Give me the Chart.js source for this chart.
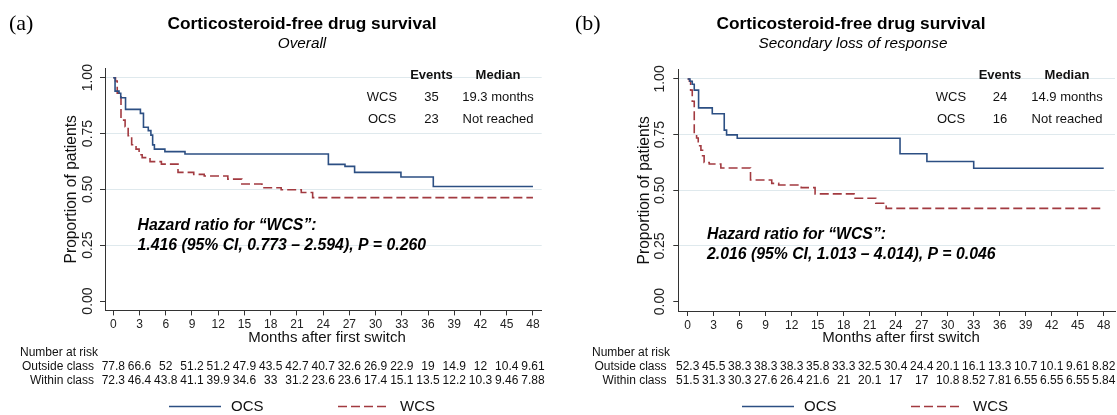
<!DOCTYPE html>
<html>
<head>
<meta charset="utf-8">
<script src="https://cdn.jsdelivr.net/npm/chart.js@4.4.1/dist/chart.umd.min.js"></script>
<style>
html, body { margin:0; padding:0; background:#fff; overflow:hidden; }
#wrap { position:relative; width:1117px; height:415px; overflow:hidden; }
canvas { position:absolute; top:0; }
#cA { left:0; }
#cB { left:558px; }
</style>
</head>
<body>
<div id="wrap">
  <canvas id="cA" width="558" height="415"></canvas>
  <canvas id="cB" width="580" height="415"></canvas>
</div>
<script>
const FONT = "'Liberation Sans', Arial, Helvetica, sans-serif";
const SERIF = "'Liberation Serif', 'Times New Roman', serif";
const BLUE = '#2c4f83', RED = '#a23a40', AXIS = '#333', GRID = '#dfe9ed';

// axes
const monthTicks = [0, 3, 6, 9, 12, 15, 18, 21, 24, 27, 30, 33, 36, 39, 42, 45, 48];
const propTicks = [0, 0.25, 0.5, 0.75, 1];
const propLabels = ['0.00', '0.25', '0.50', '0.75', '1.00'];
const tableGroups = ['WCS', 'OCS'];

// (a) overall - KM steps (month, proportion)
const ocsTimeA = [0, 0.2, 0.65, 0.85, 1.4, 3.1, 3.45, 4.0, 4.3, 4.5, 4.7, 5.9, 8.2, 24.6, 26.5, 27.6, 32.9, 36.6, 48];
const ocsSurvA = [1, 0.94, 0.93, 0.91, 0.858, 0.84, 0.778, 0.763, 0.743, 0.699, 0.68, 0.669, 0.658, 0.612, 0.603, 0.576, 0.555, 0.513, 0.513];
const wcsTimeA = [0, 0.25, 0.45, 0.88, 1.35, 1.7, 2.1, 2.6, 2.95, 3.3, 4.2, 5.5, 7.4, 9.2, 10.4, 13.1, 14.7, 17.0, 19.2, 21.5, 22.8, 48];
const wcsSurvA = [1, 0.985, 0.93, 0.81, 0.78, 0.74, 0.70, 0.68, 0.655, 0.642, 0.624, 0.613, 0.576, 0.567, 0.56, 0.546, 0.524, 0.507, 0.498, 0.486, 0.463, 0.463];
const eventsA = [35, 23];
const medianA = ['19.3 months', 'Not reached'];
const hazardA = ['Hazard ratio for \u201cWCS\u201d:', '1.416 (95% CI, 0.773 \u2013 2.594), P = 0.260'];
const outsideA = [77.8, 66.6, 52, 51.2, 51.2, 47.9, 43.5, 42.7, 40.7, 32.6, 26.9, 22.9, 19, 14.9, 12, 10.4, 9.61];
const withinA = [72.3, 46.4, 43.8, 41.1, 39.9, 34.6, 33, 31.2, 23.6, 23.6, 17.4, 15.1, 13.5, 12.2, 10.3, 9.46, 7.88];

// (b) secondary loss of response
const ocsTimeB = [0, 0.26, 0.53, 0.76, 1.26, 2.84, 4.22, 4.49, 5.72, 24.5, 27.6, 33.0, 48];
const ocsSurvB = [1, 0.99, 0.976, 0.95, 0.87, 0.844, 0.77, 0.749, 0.734, 0.664, 0.629, 0.599, 0.599];
const wcsTimeB = [0, 0.2, 0.34, 0.53, 0.76, 1.03, 1.22, 1.53, 1.72, 1.9, 2.49, 3.83, 7.25, 9.7, 10.5, 13.1, 14.7, 19.2, 21.7, 22.9, 48];
const wcsSurvB = [1, 0.99, 0.95, 0.90, 0.75, 0.735, 0.70, 0.68, 0.655, 0.625, 0.618, 0.60, 0.546, 0.531, 0.524, 0.512, 0.484, 0.464, 0.442, 0.419, 0.419];
const eventsB = [24, 16];
const medianB = ['14.9 months', 'Not reached'];
const hazardB = ['Hazard ratio for \u201cWCS\u201d:', '2.016 (95% CI, 1.013 \u2013 4.014), P = 0.046'];
const outsideB = [52.3, 45.5, 38.3, 38.3, 38.3, 35.8, 33.3, 32.5, 30.4, 24.4, 20.1, 16.1, 13.3, 10.7, 10.1, 9.61, 8.82];
const withinB = [51.5, 31.3, 30.3, 27.6, 26.4, 21.6, 21, 20.1, 17, 17, 10.8, 8.52, 7.81, 6.55, 6.55, 6.55, 5.84];

function pts(t, s) { return t.map((v, i) => ({ x: v, y: s[i] })); }

function put(c, s, x, y, font, align, color) {
  c.font = font; c.textAlign = align || 'left'; c.textBaseline = 'middle';
  c.fillStyle = color || '#111'; c.fillText(s, x, y);
}
function rot(c, s, x, y, font, color) {
  c.save(); c.translate(x, y); c.rotate(-Math.PI / 2);
  put(c, s, 0, 0, font, 'center', color); c.restore();
}

function decor(p) {
  return { id: 'decor', afterDraw(chart) {
    const c = chart.ctx, xs = chart.scales.x, ys = chart.scales.y;
    c.save();
    put(c, p.tag, p.tagX, 24, '22px ' + SERIF, 'left', '#000');
    put(c, 'Corticosteroid-free drug survival', p.titleX, 24.5, 'bold 17.3px ' + FONT, 'center', '#000');
    put(c, p.subtitle, p.subX, 44, 'italic 15.3px ' + FONT, 'center', '#000');
    // events / median table
    put(c, 'Events', p.colEv, 75.5, 'bold 13px ' + FONT, 'center');
    put(c, 'Median', p.colMed, 75.5, 'bold 13px ' + FONT, 'center');
    tableGroups.forEach((g, i) => {
      const y = 97.5 + i * 21.5;
      put(c, g, p.colName, y, '13px ' + FONT, 'center');
      put(c, String(p.events[i]), p.colEv, y, '13px ' + FONT, 'center');
      put(c, p.median[i], p.colMed, y, '13px ' + FONT, 'center');
    });
    p.hazard.forEach((s, i) => put(c, s, p.hrX, p.hrY + i * 19.5, 'italic bold 15.8px ' + FONT, 'left', '#000'));
    // rotated y tick labels and axis title
    propTicks.forEach((v, i) => rot(c, propLabels[i], p.yLabX, ys.getPixelForValue(v), '14px ' + FONT, '#222'));
    rot(c, 'Proportion of patients', p.yTitleX, ys.getPixelForValue(0.5), '15.6px ' + FONT, '#111');
    put(c, 'Months after first switch', p.xTitleX, 338, '15px ' + FONT, 'center');
    // number at risk
    put(c, 'Number at risk', p.narX, 353, '12px ' + FONT, 'left');
    put(c, 'Outside class', p.rowLabX, 367, '12px ' + FONT, 'right');
    put(c, 'Within class', p.rowLabX, 380.5, '12px ' + FONT, 'right');
    monthTicks.forEach((m, i) => {
      const x = xs.getPixelForValue(m);
      put(c, String(p.outside[i]), x, 367, '12px ' + FONT, 'center');
      put(c, String(p.within[i]), x, 380.5, '12px ' + FONT, 'center');
    });
    // legend
    chart.data.datasets.forEach((d, i) => {
      const x0 = p.legX[i];
      c.strokeStyle = d.borderColor; c.lineWidth = d.borderWidth;
      c.setLineDash(d.borderDash || []);
      c.beginPath(); c.moveTo(x0, 406.5); c.lineTo(x0 + 52, 406.5); c.stroke();
      c.setLineDash([]);
      put(c, d.label, x0 + 62, 406.5, '15px ' + FONT, 'left');
    });
    c.restore();
  }};
}

function makePanel(id, p) {
  const ds = [
    { label: 'OCS', data: p.ocs, borderColor: BLUE, borderWidth: 1.6, stepped: 'before', pointRadius: 0, fill: false },
    { label: 'WCS', data: p.wcs, borderColor: RED, borderWidth: 1.6, borderDash: [9, 4], stepped: 'before', pointRadius: 0, fill: false }
  ];
  return new Chart(document.getElementById(id), {
    type: 'line',
    data: { datasets: ds },
    options: {
      responsive: false, animation: false, devicePixelRatio: 1,
      layout: { padding: { left: 0, top: p.top, right: p.padRight, bottom: 0 } },
      plugins: { legend: { display: false }, tooltip: { enabled: false } },
      scales: {
        x: {
          type: 'linear', min: p.xMin, max: p.xMax,
          afterBuildTicks: s => { s.ticks = monthTicks.map(v => ({ value: v })); },
          afterFit: s => { s.height = p.xHeight; },
          grid: { drawOnChartArea: false, drawTicks: true, tickLength: 5, tickColor: AXIS, tickWidth: 1 },
          border: { display: true, color: AXIS, width: 1 },
          ticks: { autoSkip: false, maxRotation: 0, padding: 2, color: '#222', font: { family: FONT, size: 12 }, callback: v => String(v) }
        },
        y: {
          type: 'linear', min: -0.042, max: 1.042,
          afterBuildTicks: s => { s.ticks = propTicks.map(v => ({ value: v })); },
          afterFit: s => { s.width = p.left; },
          grid: { color: c => (c.tick && c.tick.value === 0) ? 'rgba(0,0,0,0)' : GRID, lineWidth: 1, drawTicks: true, tickLength: 5, tickColor: AXIS, tickWidth: 1 },
          border: { display: true, color: AXIS, width: 1 },
          ticks: { display: false }
        }
      }
    },
    plugins: [decor(p)]
  });
}

makePanel('cA', {
  ocs: pts(ocsTimeA, ocsSurvA), wcs: pts(wcsTimeA, wcsSurvA),
  events: eventsA, median: medianA, hazard: hazardA, outside: outsideA, within: withinA,
  tag: '(a)', subtitle: 'Overall',
  left: 105, top: 68.3, padRight: 16.3, xHeight: 104.6, xMin: -0.95, xMax: 49,
  tagX: 9, titleX: 302, subX: 302, colName: 382, colEv: 431.5, colMed: 498,
  hrX: 137.5, hrY: 226, yLabX: 88, yTitleX: 72, xTitleX: 327,
  narX: 20, rowLabX: 94, legX: [169, 338]
});

makePanel('cB', {
  ocs: pts(ocsTimeB, ocsSurvB), wcs: pts(wcsTimeB, wcsSurvB),
  events: eventsB, median: medianB, hazard: hazardB, outside: outsideB, within: withinB,
  tag: '(b)', subtitle: 'Secondary loss of response',
  left: 120.3, top: 69.6, padRight: 23, xHeight: 104, xMin: -1.08, xMax: 49.3,
  tagX: 17, titleX: 293, subX: 295, colName: 393, colEv: 442, colMed: 509,
  hrX: 149, hrY: 235, yLabX: 102, yTitleX: 87, xTitleX: 343,
  narX: 34, rowLabX: 108.5, legX: [184, 353]
});
</script>
</body>
</html>
